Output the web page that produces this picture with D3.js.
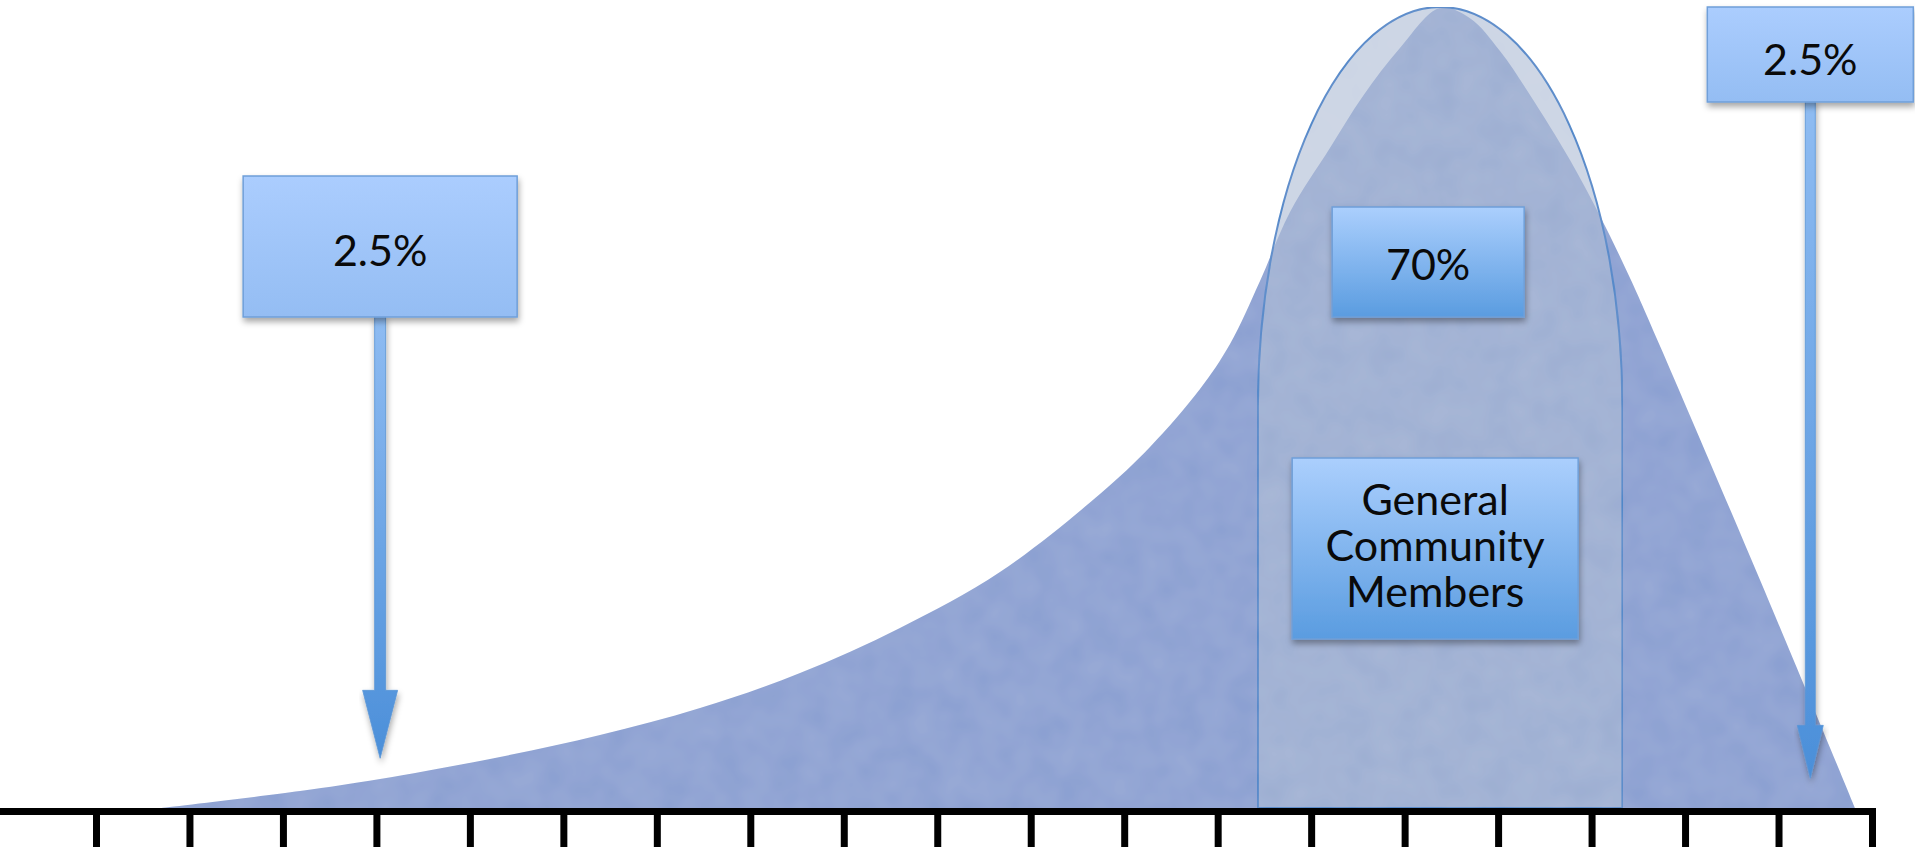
<!DOCTYPE html>
<html>
<head>
<meta charset="utf-8">
<script src="https://cdn.jsdelivr.net/npm/d3@7"></script>
<style>
  html, body { margin: 0; padding: 0; background: #ffffff; overflow: hidden; }
  svg { display: block; }
</style>
</head>
<body>
<div id="chart"></div>
<script>
// ---------------- data ----------------
const tickValues = [1, 2, 3, 4, 5, 6, 7, 8, 9, 10, 11, 12, 13, 14, 15, 16, 17, 18, 19, 20];

// skewed distribution outline (x in tick units, y in % of peak height)
const curveX = [1.696, 3.183, 4.039, 5.322, 6.392, 7.462, 8.532, 9.601, 10.671, 11.741, 12.276, 12.811, 13.132, 13.453, 13.774, 14.201, 14.555, 14.950, 15.378, 15.699, 16.020, 16.341, 16.769, 17.090, 17.411, 17.732, 18.802, 19.818];
const curveY = [0, 2.12, 3.62, 6.37, 9.11, 12.48, 16.85, 22.47, 29.46, 39.20, 45.07, 52.31, 57.93, 65.79, 74.41, 82.40, 88.89, 94.88, 99.88, 98.60, 94.51, 89.01, 80.90, 73.91, 66.17, 57.68, 28.46, 0];

// central 70% band (arch)
const bandRange = [13.43, 17.33];
const bandTop = 100;
const bandShoulder = 50;

// annotation labels and the positions their arrows point to
const labels = ["2.5%", "70%", "General|Community|Members", "2.5%"];
const arrowTargetsX = [4.04, 19.34];
const arrowTargetsY = [6.2, 3.7];

// ---------------- layout ----------------
const W = 1915, H = 847;
const x = d3.scaleLinear().domain([0, 20]).range([2.5, 1872]);
const y = d3.scaleLinear().domain([0, 100]).range([808, 7]);

const svg = d3.select("#chart").append("svg")
  .attr("width", W).attr("height", H)
  .style("font-family", "Lato, 'Open Sans', sans-serif");

const defs = svg.append("defs");
function grad(id, c0, c1) {
  const g = defs.append("linearGradient").attr("id", id)
    .attr("x1", 0).attr("y1", 0).attr("x2", 0).attr("y2", 1);
  g.append("stop").attr("offset", "0%").attr("stop-color", c0);
  g.append("stop").attr("offset", "100%").attr("stop-color", c1);
}
grad("gLight", "#abcdfe", "#94bdf3");
grad("gStrong", "#abcffd", "#5a9ce0");
grad("gArrow", "#8fbcf2", "#4b8fd9");

const sh = defs.append("filter").attr("id", "shadow")
  .attr("x", "-10%").attr("y", "-10%").attr("width", "130%").attr("height", "140%");
sh.append("feDropShadow").attr("dx", 1).attr("dy", 4).attr("stdDeviation", 3)
  .attr("flood-color", "#000").attr("flood-opacity", 0.35);

// subtle mottled texture
const tex = defs.append("filter").attr("id", "tex").attr("x", 0).attr("y", 0).attr("width", "100%").attr("height", "100%");
tex.append("feTurbulence").attr("type", "fractalNoise").attr("baseFrequency", 0.035).attr("numOctaves", 2).attr("seed", 3).attr("result", "n");
tex.append("feColorMatrix").attr("in", "n").attr("type", "matrix")
  .attr("values", "0 0 0 0 1  0 0 0 0 1  0 0 0 0 1  0 0 0 0.10 0").attr("result", "w");
tex.append("feComposite").attr("in", "w").attr("in2", "SourceGraphic").attr("operator", "in").attr("result", "wc");
const m = tex.append("feMerge");
m.append("feMergeNode").attr("in", "SourceGraphic");
m.append("feMergeNode").attr("in", "wc");

// ---------------- distribution area ----------------
const pts = curveX.map((v, i) => ({ x: v, y: curveY[i] }));
const area = d3.area()
  .x(d => x(d.x)).y0(y(0)).y1(d => y(d.y))
  .curve(d3.curveCatmullRom.alpha(0.5));
svg.append("path").datum(pts)
  .attr("d", area)
  .attr("fill", "#899fd1")
  .attr("filter", "url(#tex)");

// ---------------- 70% band ----------------
const xl = x(bandRange[0]), xr = x(bandRange[1]);
const ys = y(bandShoulder), yt = y(bandTop), yb = y(0);
const rx = (xr - xl) / 2, ry = ys - yt;
svg.append("path")
  .attr("d", `M${xl},${yb} L${xl},${ys} A${rx},${ry} 0 0 1 ${xr},${ys} L${xr},${yb} Z`)
  .attr("fill", "#a8b8d2")
  .attr("fill-opacity", 0.6)
  .attr("stroke", "#4a84c8")
  .attr("stroke-width", 2)
  .attr("filter", "url(#tex)");

// ---------------- axis ----------------
const axis = d3.axisBottom(x).tickValues(tickValues).tickFormat("")
  .tickSizeInner(H - 808).tickSizeOuter(0);
const ag = svg.append("g").attr("transform", `translate(0,${808})`).call(axis);
ag.select(".domain").remove();
ag.selectAll(".tick line").attr("stroke", "#000").attr("stroke-width", 7);
svg.append("rect")
  .attr("x", 0).attr("y", 808)
  .attr("width", x(20) + 3.5).attr("height", 7)
  .attr("fill", "#000");

// ---------------- annotations ----------------
function box(cx, top, w, h, fillId) {
  svg.append("rect")
    .attr("x", cx - w / 2).attr("y", top).attr("width", w).attr("height", h)
    .attr("fill", `url(#${fillId})`)
    .attr("stroke", "#6f9fd9").attr("stroke-width", 1.5)
    .attr("filter", "url(#shadow)");
}
function label(cx, baselines, text) {
  const lines = text.split("|");
  const t = svg.append("text").attr("text-anchor", "middle")
    .attr("font-size", 43).attr("fill", "#0a0a0a");
  lines.forEach((s, i) => t.append("tspan").attr("x", cx).attr("y", baselines[i]).text(s));
}
function arrow(cx, top, tipY, stemW, headW, headH) {
  const headTop = tipY - headH;
  const p = d3.path();
  p.moveTo(cx - stemW / 2, top);
  p.lineTo(cx + stemW / 2, top);
  p.lineTo(cx + stemW / 2, headTop);
  p.lineTo(cx + headW / 2, headTop);
  p.lineTo(cx, tipY);
  p.lineTo(cx - headW / 2, headTop);
  p.lineTo(cx - stemW / 2, headTop);
  p.closePath();
  svg.append("path").attr("d", p.toString())
    .attr("fill", "url(#gArrow)")
    .attr("stroke", "#5a95d6").attr("stroke-width", 0.8)
    .attr("filter", "url(#shadow)");
}

// left 2.5%
const lx = x(arrowTargetsX[0]);
arrow(lx, 316, y(arrowTargetsY[0]), 11, 35, 68);
box(lx, 176, 274, 141, "gLight");
label(lx, [266], labels[0]);

// right 2.5%
const rxA = x(arrowTargetsX[1]);
arrow(rxA, 100, y(arrowTargetsY[1]), 10, 26, 53);
box(rxA, 7, 206, 95, "gLight");
label(rxA, [75], labels[3]);

// 70%
const mid = (xl + xr) / 2;
box(mid - 12, 207, 192, 110, "gStrong");
label(mid - 12, [280], labels[1]);

// General Community Members
box(mid - 5, 458, 286, 181, "gStrong");
label(mid - 5, [515, 561, 607], labels[2]);
</script>
</body>
</html>
